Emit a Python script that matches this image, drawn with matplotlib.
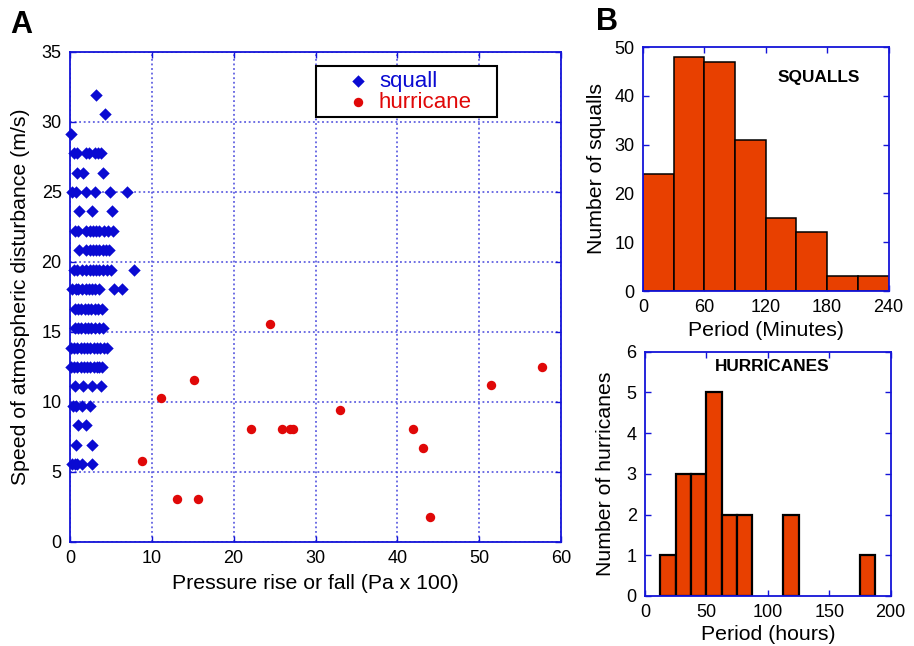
import matplotlib
matplotlib.use("Agg")
import matplotlib.pyplot as plt
from matplotlib.patches import Rectangle
import numpy as np

plt.rcParams['font.family'] = ['Liberation Sans', 'DejaVu Sans']

# ---------------- Data ----------------
# Panel A: squalls, rows of equal speed (m/s) with pressure (Pa x 100)
squall_rows = [
    (31.94, [3.2]),
    (30.56, [4.3]),
    (29.17, [0.1]),
    (27.78, [0.5, 0.9, 1.9, 2.3, 3.0, 3.4, 3.8]),
    (26.39, [0.8, 1.6, 4.0]),
    (25.00, [0.3, 0.7, 1.9, 3.0, 4.9, 7.0]),
    (23.61, [1.1, 2.7, 5.1]),
    (22.22, [0.6, 1.0, 2.0, 2.4, 2.8, 3.2, 3.6, 4.1, 4.6, 5.2]),
    (20.83, [1.1, 2.0, 2.4, 2.8, 3.2, 3.6, 4.0, 4.4, 4.8]),
    (19.44, [0.5, 0.9, 1.5, 2.0, 2.4, 2.8, 3.2, 3.6, 4.0, 4.5, 5.0, 7.8]),
    (18.06, [0.3, 0.7, 1.0, 1.5, 1.9, 2.3, 2.7, 3.1, 3.6, 5.4, 6.4]),
    (16.67, [0.6, 1.0, 1.4, 1.8, 2.2, 2.6, 3.0, 3.4, 3.9]),
    (15.28, [0.6, 1.0, 1.4, 1.8, 2.2, 2.6, 3.0, 3.5, 4.0]),
    (13.89, [0.1, 0.5, 0.9, 1.3, 1.7, 2.1, 2.5, 2.9, 3.3, 3.7, 4.1, 4.5]),
    (12.50, [0.1, 0.5, 0.9, 1.3, 1.7, 2.1, 2.5, 2.9, 3.3, 3.6, 3.9]),
    (11.11, [0.6, 1.6, 2.7, 3.8]),
    (9.72, [0.4, 0.7, 1.5, 2.5]),
    (8.33, [1.0, 2.0]),
    (6.94, [0.7, 2.7]),
    (5.56, [0.3, 0.6, 0.9, 1.5, 2.7]),
]

hurricane_pressure = [24.4, 15.2, 11.1, 8.8, 13.1, 15.6, 22.1, 25.9, 26.9, 27.3,
                      33.0, 41.9, 43.1, 44.0, 51.4, 57.7]
hurricane_speed = [15.6, 11.6, 10.3, 5.8, 3.1, 3.1, 8.05, 8.05, 8.05, 8.05,
                   9.4, 8.05, 6.7, 1.76, 11.2, 12.5]

# Panel B top: squall periods (minutes)
squall_bin_edges = [0, 30, 60, 90, 120, 150, 180, 210, 240]
squall_counts = [24, 48, 47, 31, 15, 12, 3, 3]

# Panel B bottom: hurricane periods (hours)
hurr_bin_left = [12.5, 25, 37.5, 50, 62.5, 75, 112.5, 175]
hurr_counts = [1, 3, 3, 5, 2, 2, 2, 1]
hurr_bin_width = 12.5

# ---------------- Style ----------------
BLUE = '#1414d8'
GRIDBLUE = '#4646dc'
SQ_BLUE = '#0a0ad2'
HU_RED = '#e00808'
BAR = '#e84000'
LABEL_FS = 15.3
TICK_FS = 13

W, H = 914, 646
fig = plt.figure(figsize=(W / 100, H / 100), dpi=100)

def frac(l, t, r, b):
    return [l / W, (H - b) / H, (r - l) / W, (b - t) / H]

def style_axes(ax, grid=False):
    for s in ax.spines.values():
        s.set_color(BLUE)
        s.set_linewidth(1.3)
    ax.tick_params(direction='in', which='both', top=True, right=True,
                   color=BLUE, length=4, width=1, labelsize=TICK_FS,
                   labelcolor='black', pad=6)
    if grid:
        ax.grid(True, color=GRIDBLUE, linestyle=(0, (1.2, 1.8)), linewidth=1.1)
        ax.set_axisbelow(True)

# ---------------- Panel A ----------------
axA = fig.add_axes(frac(70, 52, 561, 542))
sq_x = []
sq_y = []
for spd, prs in squall_rows:
    for p in prs:
        sq_x.append(p)
        sq_y.append(spd)
axA.scatter(sq_x, sq_y, marker='D', s=40, color=SQ_BLUE, linewidths=0,
            label='squall', zorder=3, clip_on=False)
axA.scatter(hurricane_pressure, hurricane_speed, marker='o', s=46, color=HU_RED,
            linewidths=0, label='hurricane', zorder=3)
axA.set_xlim(0, 60)
axA.set_ylim(0, 35)
axA.set_xticks(np.arange(0, 61, 10))
axA.set_yticks(np.arange(0, 36, 5))
style_axes(axA, grid=True)
axA.set_xlabel('Pressure rise or fall (Pa x 100)', fontsize=LABEL_FS, labelpad=5)
axA.set_ylabel('Speed of atmospheric disturbance (m/s)', fontsize=LABEL_FS, labelpad=8)

leg = axA.legend(loc='center left', bbox_to_anchor=(0.564, 0.919), frameon=False,
                 fontsize=16, handletextpad=0.44, borderpad=0.0,
                 labelspacing=0.0, handlelength=1.0, borderaxespad=0)
for txt, c in zip(leg.get_texts(), [SQ_BLUE, HU_RED]):
    txt.set_color(c)
axA.add_patch(Rectangle((0.501, 0.867), 0.8697 - 0.501, 0.971 - 0.867,
                        transform=axA.transAxes, fill=True, facecolor='white',
                        edgecolor='black', linewidth=1.5, zorder=4))
leg.set_zorder(5)
fig.text(10 / W, 1 - 33 / H, 'A', fontsize=22, fontweight='bold', va='baseline')

# ---------------- Panel B top ----------------
axB1 = fig.add_axes(frac(643, 47, 888.5, 291))
axB1.bar(squall_bin_edges[:-1], squall_counts, width=np.diff(squall_bin_edges),
         align='edge', color=BAR, edgecolor='black', linewidth=1.1, zorder=2)
axB1.set_xlim(0, 240)
axB1.set_ylim(0, 50)
axB1.set_xticks([0, 60, 120, 180, 240])
axB1.set_yticks(np.arange(0, 51, 10))
style_axes(axB1)
axB1.set_xlabel('Period (Minutes)', fontsize=LABEL_FS, labelpad=3)
axB1.set_ylabel('Number of squalls', fontsize=LABEL_FS, labelpad=6)
axB1.text(0.717, 0.873, 'SQUALLS', transform=axB1.transAxes, ha='center',
          va='center', fontsize=12.4, fontweight='bold')
fig.text(596 / W, 1 - 30 / H, 'B', fontsize=22, fontweight='bold', va='baseline')

# ---------------- Panel B bottom ----------------
axB2 = fig.add_axes(frac(645, 351.7, 890.7, 596))
axB2.bar(hurr_bin_left, hurr_counts, width=hurr_bin_width, align='edge',
         color=BAR, edgecolor='black', linewidth=1.6, zorder=2)
axB2.set_xlim(0, 200)
axB2.set_ylim(0, 6)
axB2.set_xticks([0, 50, 100, 150, 200])
axB2.set_yticks(np.arange(0, 7, 1))
style_axes(axB2)
axB2.set_xlabel('Period (hours)', fontsize=LABEL_FS, labelpad=3)
axB2.set_ylabel('Number of hurricanes', fontsize=LABEL_FS, labelpad=8)
axB2.text(0.516, 0.941, 'HURRICANES', transform=axB2.transAxes, ha='center',
          va='center', fontsize=12.4, fontweight='bold')

fig.savefig('out.png', dpi=100)
